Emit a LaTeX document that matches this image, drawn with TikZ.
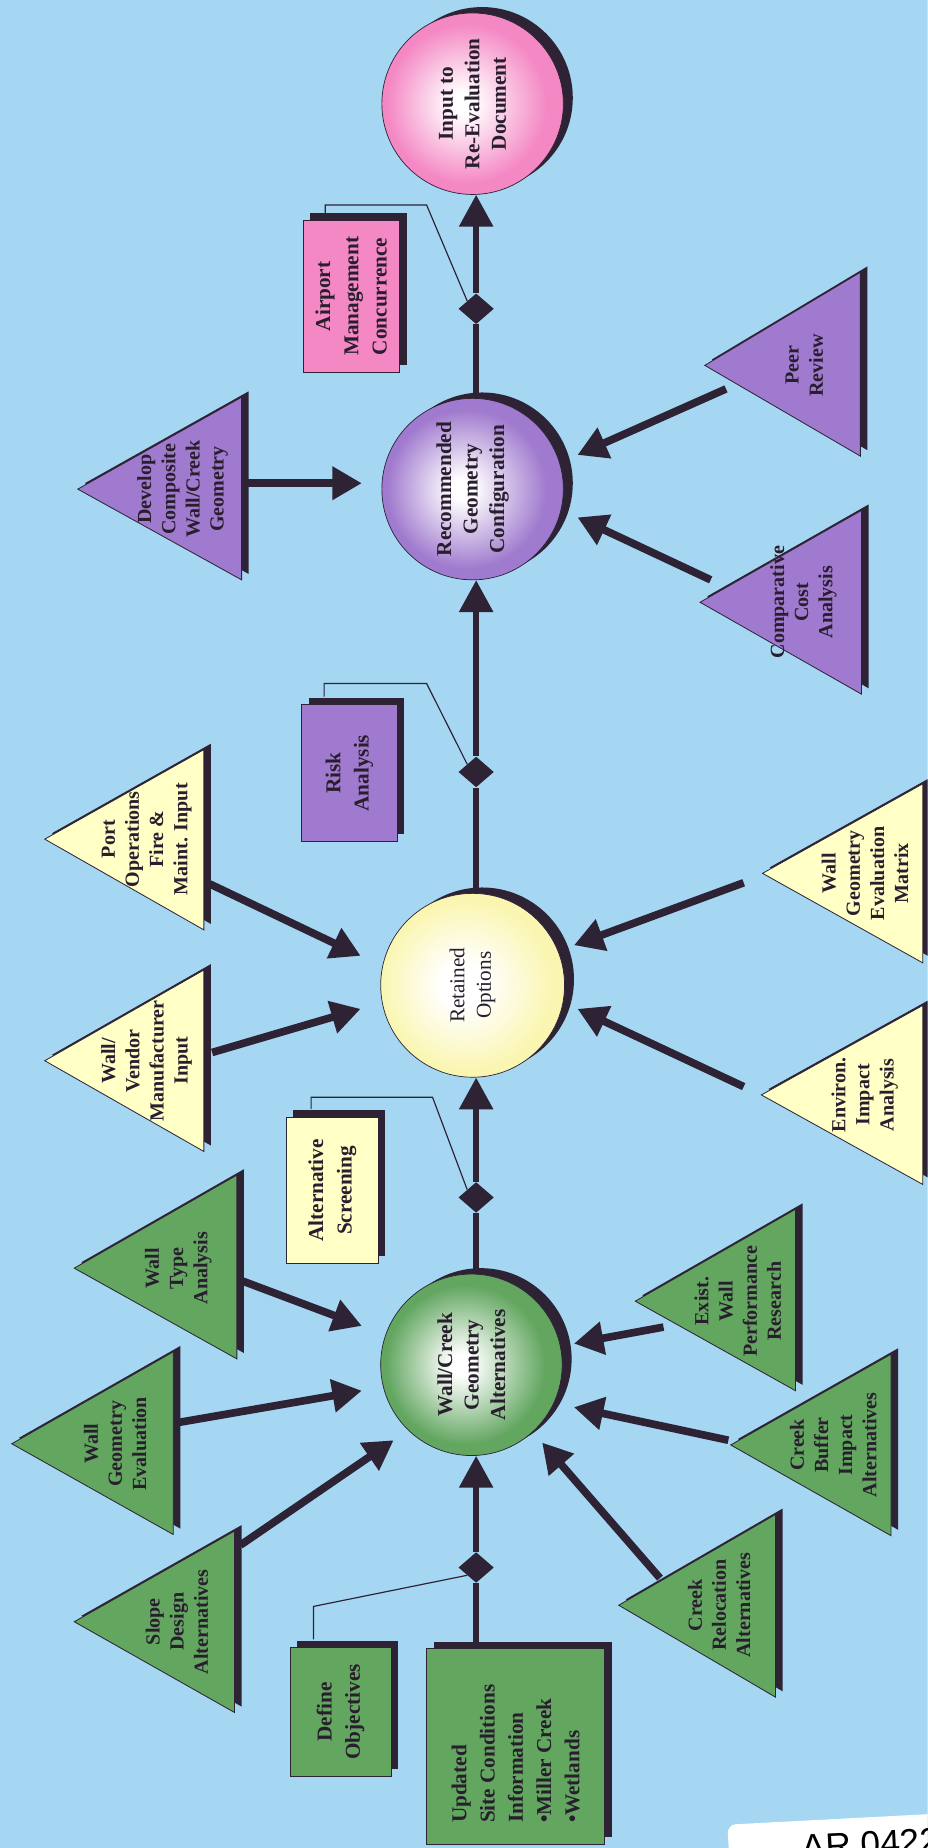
\documentclass[tikz,border=0pt]{standalone}
\usepackage{fontspec}
\setmainfont{Liberation Serif}
\setsansfont{Liberation Sans}
\usetikzlibrary{arrows.meta,shapes.geometric,fit,calc}
\definecolor{bgc}{RGB}{165,214,242}
\definecolor{darkc}{RGB}{45,35,52}
\definecolor{txtc}{RGB}{40,30,45}
\definecolor{cgreen}{RGB}{98,166,96}
\definecolor{cyellow}{RGB}{255,255,198}
\definecolor{cpurple}{RGB}{160,122,206}
\definecolor{cpink}{RGB}{244,136,196}
\definecolor{cyellowrim}{RGB}{250,246,178}
\pgfdeclareradialshading{ballgreen}{\pgfpoint{-3bp}{0bp}}{color(0bp)=(white); color(3bp)=(white); color(22bp)=(cgreen); color(25bp)=(cgreen); color(50bp)=(cgreen)}
\pgfdeclareradialshading{ballyellow}{\pgfpoint{-3bp}{0bp}}{color(0bp)=(white); color(6bp)=(white); color(23bp)=(cyellowrim); color(25bp)=(cyellowrim); color(50bp)=(cyellowrim)}
\pgfdeclareradialshading{ballpurple}{\pgfpoint{-3bp}{0bp}}{color(0bp)=(white); color(3bp)=(white); color(22bp)=(cpurple); color(25bp)=(cpurple); color(50bp)=(cpurple)}
\pgfdeclareradialshading{ballpink}{\pgfpoint{-3bp}{0bp}}{color(0bp)=(white); color(3bp)=(white); color(22bp)=(cpink); color(25bp)=(cpink); color(50bp)=(cpink)}
% triangle: name, apex x, apex y, right x, top y, bottom y, colour, text
\newcommand\mytri[8]{%
  \fill[darkc] ({#2+6},{#3-5}) -- ({#4+6},{#5-5}) -- ({#4+6},{#6-5}) -- cycle;
  \filldraw[fill=#7, draw=darkc, line width=0.7pt] (#2,#3) -- (#4,#5) -- (#4,#6) -- cycle;
  \node[tritext] (#1) at ({#2+0.64*(#4-#2)},#3) {#8};
}
% box shape: name, x1, y1, x2, y2, colour
\newcommand\myboxshape[6]{%
  \fill[darkc] ({#2+6},{#3-6}) rectangle ({#4+6},{#5-6});
  \node[boxshape, fill=#6, fit={(#2,#3) (#4,#5)}] (#1) {};
}
% ball: name, x, y, r, shading, text
\newcommand\myball[6]{%
  \fill[darkc] ({#2+8},{#3-5}) circle (#4pt);
  \node[circle, minimum size={2*#4pt}, inner sep=0pt, shade, shading=#5, draw=darkc, line width=0.6pt] (#1) at (#2,#3) {};
  \node[balltext] (#1t) at (#2,#3) {#6};
}
\begin{document}
\begin{tikzpicture}[x=1pt,y=-1pt,
  tritext/.style={rotate=90, align=center, inner sep=0pt, text=txtc, font=\fontsize{17}{20.5}\selectfont\bfseries},
  boxtext/.style={rotate=90, align=center, inner sep=0pt, text=txtc, font=\fontsize{18}{24}\selectfont\bfseries},
  balltext/.style={rotate=90, align=center, inner sep=0pt, text=txtc, font=\fontsize{18}{22.5}\selectfont\bfseries},
  boxshape/.style={draw=darkc, line width=0.6pt, inner sep=0pt},
  dia/.style={diamond, fill=darkc, minimum width=30pt, minimum height=26pt, inner sep=0pt},
  axisline/.style={draw=darkc, line width=5pt},
  axisarrow/.style={draw=darkc, line width=5pt, -{Triangle[length=27pt,width=28pt]}},
  bigarrow/.style={draw=darkc, line width=6.5pt, -{Triangle[length=25pt,width=27pt]}},
  callout/.style={draw=darkc, line width=1pt},
]
\useasboundingbox (0,0) rectangle (787,1568);
\clip (0,0) rectangle (787,1568);
\fill[bgc] (0,0) rectangle (787,1568);

% ---------- main ellipses ----------
\myball{inp}{401}{88}{77}{ballpink}{Input to\\Re-Evaluation\\Document}
\myball{rec}{401}{415}{77}{ballpurple}{Recommended\\Geometry\\Configuration}
\myball{ret}{401}{836}{78}{ballyellow}{\mdseries Retained\\\mdseries Options}
\myball{wcg}{400}{1158}{77}{ballgreen}{Wall/Creek\\Geometry\\Alternatives}

% ---------- boxes ----------
\myboxshape{air}{257}{187}{339}{316}{cpink}
\node[boxtext] (airt) at (298,251.5) {Airport\\Management\\Concurrence};
\myboxshape{risk}{256}{598}{337}{714}{cpurple}
\node[boxtext] (riskt) at (296.5,656) {Risk\\Analysis};
\myboxshape{alts}{243}{948}{321}{1072}{cyellow}
\node[boxtext] (altst) at (282,1010) {Alternative\\Screening};
\myboxshape{defo}{246}{1398}{332}{1507}{cgreen}
\node[boxtext] (defot) at (289,1452.5) {Define\\Objectives};
\myboxshape{upd}{362}{1399}{513}{1565}{cgreen}
\node[boxtext, align=left] (updt) at (437.5,1488) {Updated\\Site Conditions\\Information\\•Miller Creek\\•Wetlands};

% ---------- diamonds ----------
\node[dia] (d3) at (404,262) {};
\node[dia] (d2) at (404,655) {};
\node[dia] (d1) at (404,1016) {};
\node[dia] (d0) at (404,1330) {};

% ---------- main axis ----------
\draw[axisline] (rec.north -| d3) -- (d3.south);
\draw[axisarrow] (d3.north) -- (d3 |- inp.south);
\draw[axisline] (ret.north -| d2) -- (d2.south);
\draw[axisarrow] (d2.north) -- (d2 |- rec.south);
\draw[axisline] (wcg.north -| d1) -- (d1.south);
\draw[axisarrow] (d1.north) -- (d1 |- ret.south);
\draw[axisline] (upd.north -| d0) -- (d0.south);
\draw[axisarrow] (d0.north) -- (d0 |- wcg.south);

% ---------- callouts ----------
\coordinate (c3a) at (362,174); \coordinate (c3b) at (276,174); \coordinate (c3c) at (276,181);
\draw[callout] (d3.north west) -- (c3a) -- (c3b) -- (c3c);
\coordinate (c2a) at (362,580); \coordinate (c2b) at (275,580); \coordinate (c2c) at (275,591);
\draw[callout] (d2.north west) -- (c2a) -- (c2b) -- (c2c);
\coordinate (c1a) at (367,931); \coordinate (c1b) at (264,931); \coordinate (c1c) at (264,941);
\draw[callout] (d1.north west) -- (c1a) -- (c1b) -- (c1c);
\coordinate (c0a) at (266,1363); \coordinate (c0b) at (266,1391);
\draw[callout] (d0.south west) -- (c0a) -- (c0b);

% ---------- triangles ----------
\mytri{dev}{66}{415}{205}{337}{492}{cpurple}{Develop\\Composite\\Wall/Creek\\Geometry}
\mytri{peer}{598}{310}{730}{231}{387}{cpurple}{Peer\\Review}
\mytri{comp}{594}{511}{731}{433}{589}{cpurple}{Comparative\\Cost\\Analysis}
\mytri{port}{38}{712}{173}{636}{789}{cyellow}{Port\\Operations\\Fire \&\\Maint. Input}
\mytri{vend}{38}{900}{173}{823}{977}{cyellow}{Wall/\\Vendor\\Manufacturer\\Input}
\mytri{wgem}{647}{741}{783}{665}{817}{cyellow}{Wall\\Geometry\\Evaluation\\Matrix}
\mytri{env}{646}{929}{783}{853}{1005}{cyellow}{Environ.\\Impact\\Analysis}
\mytri{wt}{63}{1076}{201}{997}{1153}{cgreen}{Wall\\Type\\Analysis}
\mytri{wge}{10}{1225}{147}{1147}{1302}{cgreen}{Wall\\Geometry\\Evaluation}
\mytri{slope}{63}{1376}{199}{1299}{1453}{cgreen}{Slope\\Design\\Alternatives}
\mytri{exist}{539}{1104}{675}{1026}{1180}{cgreen}{Exist.\\Wall\\Performance\\Research}
\mytri{cb}{620}{1226}{756}{1149}{1303}{cgreen}{Creek\\Buffer\\Impact\\Alternatives}
\mytri{cr}{525}{1362}{658}{1285}{1440}{cgreen}{Creek\\Relocation\\Alternatives}

% ---------- arrows into ellipses ----------
\coordinate (sdev) at (206,410);   \coordinate (edev) at (307,410);
\coordinate (speer) at (616,330);  \coordinate (epeer) at (490,386);
\coordinate (scomp) at (603,492);  \coordinate (ecomp) at (490,439);
\coordinate (sport) at (178,750);  \coordinate (eport) at (306,811);
\coordinate (svend) at (180,893);  \coordinate (evend) at (306,856);
\coordinate (swgem) at (631,749);  \coordinate (ewgem) at (487,802);
\coordinate (senv) at (631,922);   \coordinate (eenv) at (490,856);
\coordinate (swt) at (206,1087);   \coordinate (ewt) at (307,1125);
\coordinate (swge) at (151,1207);  \coordinate (ewge) at (307,1180);
\coordinate (sslope) at (204,1311);\coordinate (eslope) at (334,1222);
\coordinate (sexist) at (563,1126);\coordinate (eexist) at (487,1140);
\coordinate (scb) at (618,1222);   \coordinate (ecb) at (487,1194);
\coordinate (scr) at (560,1339);   \coordinate (ecr) at (460,1224);
\foreach \n in {dev,peer,comp,port,vend,wgem,env,wt,wge,slope,exist,cb,cr}
  \draw[bigarrow] (s\n) -- (e\n);

% ---------- stamp ----------
\node[rotate=3, fill=white, rounded corners=7pt, minimum width=220pt, minimum height=60pt, anchor=north west, inner sep=0pt] (stamp) at (617,1548) {};
\node[rotate=3, anchor=base west, inner sep=0pt, text=black, font=\sffamily\fontsize{30}{30}\selectfont] (ar) at (681,1578) {AR 0422};
\end{tikzpicture}
\end{document}
